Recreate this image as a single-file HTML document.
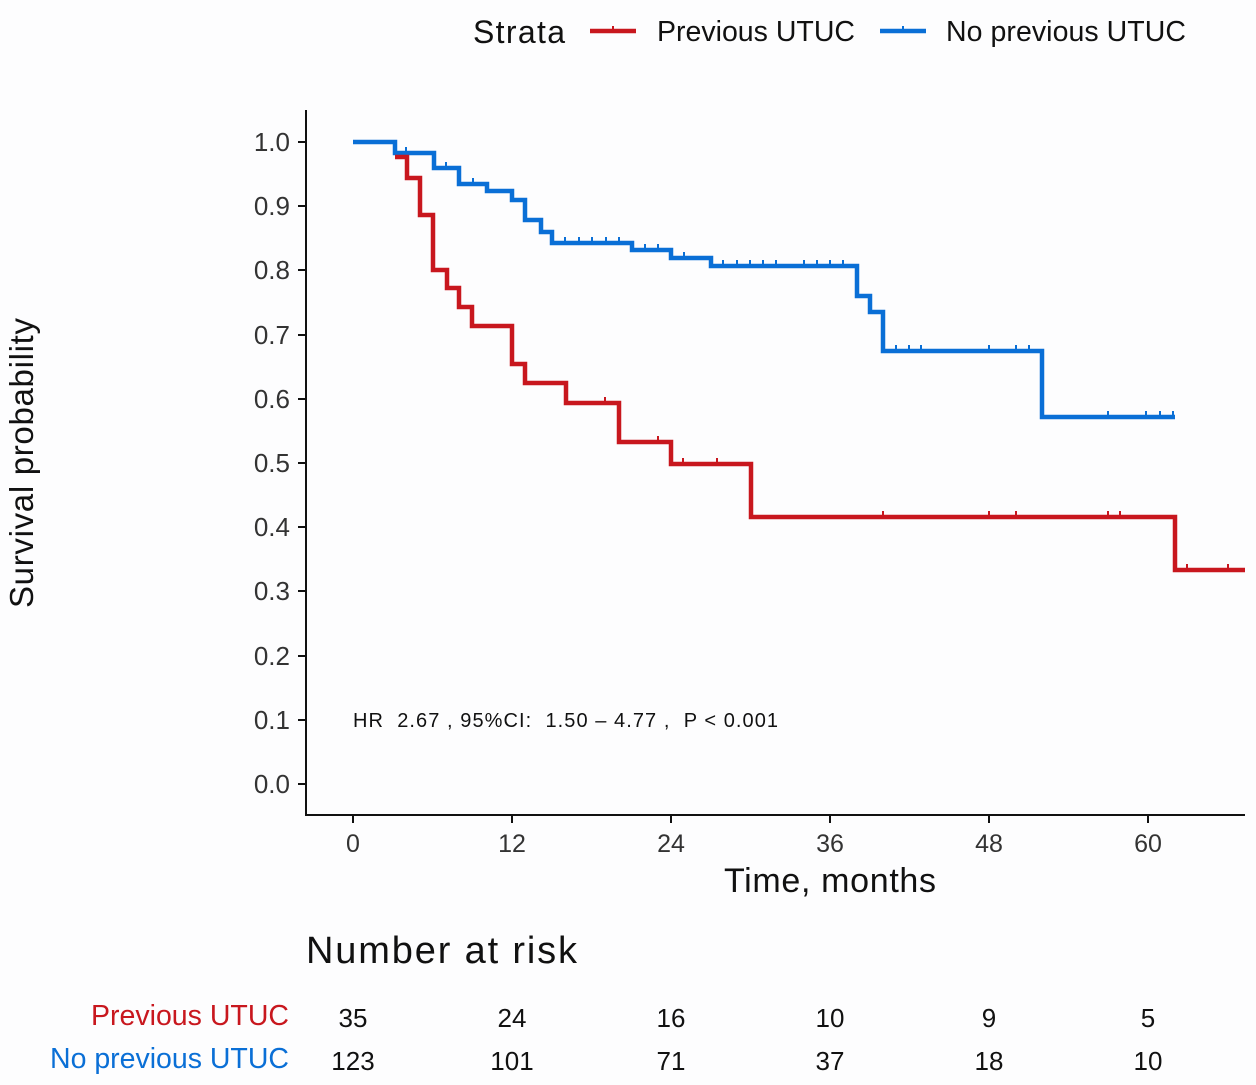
<!DOCTYPE html>
<html><head><meta charset="utf-8"><style>
body{margin:0;background:#fdfdfe;}
svg text{font-family:"Liberation Sans",sans-serif;}
</style></head><body>
<svg width="1256" height="1080" viewBox="0 0 1256 1080" xmlns="http://www.w3.org/2000/svg">
<rect width="1256" height="1080" fill="#fdfdfe"/>
<!-- legend -->
<text x="473" y="43" font-size="32" fill="#111" textLength="92">Strata</text>
<line x1="590" y1="31" x2="636" y2="31" stroke="#c8171e" stroke-width="4.5"/>
<line x1="613" y1="26" x2="613" y2="31" stroke="#c8171e" stroke-width="2"/>
<text x="657" y="41" font-size="28.5" fill="#111" textLength="198">Previous UTUC</text>
<line x1="880" y1="31" x2="926" y2="31" stroke="#0a6fd6" stroke-width="4.5"/>
<line x1="903" y1="26" x2="903" y2="31" stroke="#0a6fd6" stroke-width="2"/>
<text x="946" y="41" font-size="28.5" fill="#111" textLength="240">No previous UTUC</text>
<!-- axes -->
<line x1="306" y1="110" x2="306" y2="816" stroke="#111" stroke-width="2"/>
<line x1="305" y1="815" x2="1245" y2="815" stroke="#111" stroke-width="2"/>
<g font-size="26" fill="#333" text-anchor="end">
<text x="290" y="151">1.0</text><text x="290" y="215">0.9</text><text x="290" y="279">0.8</text>
<text x="290" y="344">0.7</text><text x="290" y="408">0.6</text><text x="290" y="472">0.5</text>
<text x="290" y="536">0.4</text><text x="290" y="600">0.3</text><text x="290" y="665">0.2</text>
<text x="290" y="729">0.1</text><text x="290" y="793">0.0</text>
</g>
<g stroke="#111" stroke-width="2">
<line x1="298" y1="142" x2="306" y2="142"/><line x1="298" y1="206" x2="306" y2="206"/><line x1="298" y1="270" x2="306" y2="270"/>
<line x1="298" y1="335" x2="306" y2="335"/><line x1="298" y1="399" x2="306" y2="399"/><line x1="298" y1="463" x2="306" y2="463"/>
<line x1="298" y1="527" x2="306" y2="527"/><line x1="298" y1="591" x2="306" y2="591"/><line x1="298" y1="656" x2="306" y2="656"/>
<line x1="298" y1="720" x2="306" y2="720"/><line x1="298" y1="784" x2="306" y2="784"/>
<line x1="353" y1="815" x2="353" y2="823"/><line x1="512" y1="815" x2="512" y2="823"/><line x1="671" y1="815" x2="671" y2="823"/>
<line x1="830" y1="815" x2="830" y2="823"/><line x1="989" y1="815" x2="989" y2="823"/><line x1="1148" y1="815" x2="1148" y2="823"/>
</g>
<g font-size="25" fill="#333" text-anchor="middle">
<text x="353" y="852">0</text><text x="512" y="852">12</text><text x="671" y="852">24</text>
<text x="830" y="852">36</text><text x="989" y="852">48</text><text x="1148" y="852">60</text>
</g>
<text x="724" y="892" font-size="34" fill="#111" textLength="212">Time, months</text>
<text transform="translate(33,608) rotate(-90)" font-size="33" fill="#111" textLength="290">Survival probability</text>
<text x="353" y="727" font-size="20" fill="#111" textLength="425" xml:space="preserve">HR  2.67 , 95%CI:  1.50 – 4.77 ,  P &lt; 0.001</text>
<!-- curves -->
<path d="M353 142 H395 V153 H434 V168 H459 V184 H487 V191 H512 V200 H525 V220 H541 V232 H552 V243 H632 V250 H671 V258 H711 V266 H857 V296 H870 V312 H883 V351 H1042 V417 H1175" fill="none" stroke="#0a6fd6" stroke-width="4.5"/>
<path d="M395 157 H407 V178 H420 V215 H433 V270 H447 V288 H459 V307 H472 V326 H512 V364 H525 V383 H566 V403 H619 V442 H671 V464 H751 V517 H1175 V570 H1245" fill="none" stroke="#c8171e" stroke-width="4.5"/>
<g stroke="#0a6fd6" stroke-width="2">
<path d="M406 153v-6M446 168v-6M473 184v-6M565 243v-6M579 243v-6M592 243v-6M606 243v-6M619 243v-6M645 250v-6M658 250v-6M684 258v-6M723 266v-6M737 266v-6M750 266v-6M763 266v-6M776 266v-6M804 266v-6M817 266v-6M830 266v-6M843 266v-6M896 351v-6M909 351v-6M921 351v-6M989 351v-6M1016 351v-6M1029 351v-6M1108 417v-6M1146 417v-6M1160 417v-6M1173 417v-6"/>
</g>
<g stroke="#c8171e" stroke-width="2">
<path d="M605 403v-6M658 442v-6M683 464v-6M717 464v-6M883 517v-6M989 517v-6M1016 517v-6M1108 517v-6M1120 517v-6M1187 570v-6M1228 570v-6"/>
</g>
<!-- risk table -->
<text x="306" y="963" font-size="38" fill="#111" textLength="271">Number at risk</text>
<g font-size="28.5">
<text x="91" y="1025" fill="#c8171e" textLength="198">Previous UTUC</text>
<text x="50" y="1068" fill="#0a6fd6" textLength="239">No previous UTUC</text>
</g>
<g font-size="26" fill="#111" text-anchor="middle">
<text x="353" y="1027">35</text><text x="512" y="1027">24</text><text x="671" y="1027">16</text>
<text x="830" y="1027">10</text><text x="989" y="1027">9</text><text x="1148" y="1027">5</text>
<text x="353" y="1070">123</text><text x="512" y="1070">101</text><text x="671" y="1070">71</text>
<text x="830" y="1070">37</text><text x="989" y="1070">18</text><text x="1148" y="1070">10</text>
</g>
</svg>
</body></html>
